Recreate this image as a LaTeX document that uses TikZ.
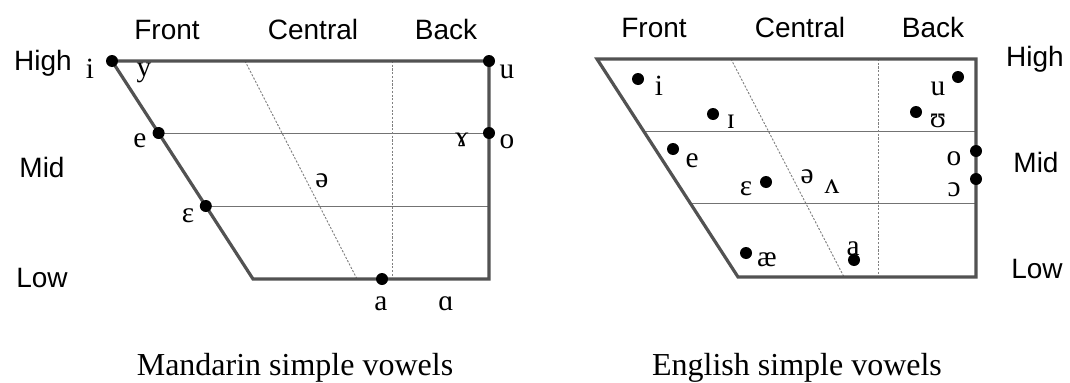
\documentclass[tikz,border=0pt]{standalone}
\usepackage{fontspec}
\setmainfont{Liberation Serif}
\setsansfont{Liberation Sans}
\usetikzlibrary{positioning}

\tikzset{
  frame/.style={line width=2.4pt, draw=black!68, line join=miter},
  grid line/.style={line width=0.75pt, draw=black!55},
  guide/.style={line width=0.7pt, draw=black!50, dash pattern=on 1.6pt off 1.2pt},
  vdot/.style={circle, fill=black, inner sep=0pt, minimum size=9pt},
  sym/.style={anchor=base, inner sep=0pt, font=\fontsize{22}{26}\selectfont},
  axis/.style={anchor=base, inner sep=0pt, font=\sffamily\fontsize{21}{25}\selectfont},
  caption/.style={anchor=base, inner sep=0pt, font=\fontsize{24}{28}\selectfont}
}

\begin{document}
\begin{tikzpicture}[x=0.75pt, y=-0.75pt]
	\useasboundingbox (0,0) rectangle (1070,382);
	
	% 1. Mandarin chart
	\coordinate (mTL) at (112,61);
	\coordinate (mTR) at (489,61);
	\coordinate (mBR) at (489,279);
	\coordinate (mBL) at (253,279);
	\coordinate (mE) at (158.6,133);
	\coordinate (mO) at (489,133);
	\coordinate (mEps) at (205.8,206);
	\coordinate (mEpsR) at (489,206);
	\coordinate (mA) at (382,279);
	
	\draw[grid line] (mE) -- (mO);
	\draw[grid line] (mEps) -- (mEpsR);
	\draw[guide] (245,61) coordinate (mS1) -- (357,279) coordinate (mS2);
	\draw[guide] (392,61) coordinate (mV1) -- (392,279) coordinate (mV2);
	\draw[frame] (mTL) -- (mTR) -- (mBR) -- (mBL) -- cycle;
	
	\node[vdot] (mi) at (mTL) {};
	\node[vdot] (mu) at (mTR) {};
	\node[vdot] (me) at (mE) {};
	\node[vdot] (mo) at (mO) {};
	\node[vdot] (meps) at (mEps) {};
	\node[vdot] (ma) at (mA) {};
	
	\node[sym] (mi-l) at (90,78) {i};
	\node[sym] (my-l) at (144,76) {y};
	\node[sym] (mu-l) at (507,78) {u};
	\node[sym] (me-l) at (140,147) {e};
	\node[sym] (mr-l) at (462,146) {ɤ};
	\node[sym] (mo-l) at (507,148) {o};
	\node[sym] (mschwa-l) at (322,187) {ə};
	\node[sym] (meps-l) at (188,222) {ɛ};
	\node[sym] (ma-l) at (381,310) {a};
	\node[sym] (mback-l) at (446,310) {ɑ};
	
	\node[axis] (mfront) at (167,39) {Front};
	\node[axis] (mcentral) at (313,39) {Central};
	\node[axis] (mback) at (446,39) {Back};
	\node[axis] (mhigh) at (43,70) {High};
	\node[axis] (mmid) at (42,177) {Mid};
	\node[axis] (mlow) at (42,287) {Low};
	
	% 2. English chart
	\coordinate (eTL) at (597,59);
	\coordinate (eTR) at (976,59);
	\coordinate (eBR) at (976,277);
	\coordinate (eBL) at (738,277);
	\coordinate (eH1) at (643.6,131);
	\coordinate (eH1R) at (976,131);
	\coordinate (eH2) at (690.1,203);
	\coordinate (eH2R) at (976,203);
	
	\draw[grid line] (eH1) -- (eH1R);
	\draw[grid line] (eH2) -- (eH2R);
	\draw[guide] (731,59) coordinate (eS1) -- (844,277) coordinate (eS2);
	\draw[guide] (878,59) coordinate (eV1) -- (878,277) coordinate (eV2);
	\draw[frame] (eTL) -- (eTR) -- (eBR) -- (eBL) -- cycle;
	
	\node[vdot] (ei) at (638,79) {};
	\node[vdot] (eI) at (713,114) {};
	\node[vdot] (eu) at (958,77) {};
	\node[vdot] (eU) at (916,112) {};
	\node[vdot] (ee) at (673,149) {};
	\node[vdot] (eeps) at (766,182) {};
	\node[vdot] (eo) at (976,151) {};
	\node[vdot] (eopen) at (976,179) {};
	\node[vdot] (eae) at (746,253) {};
	\node[vdot] (ea) at (854,260) {};
	
	\node[sym] (ei-l) at (659,95) {i};
	\node[sym] (eI-l) at (731,128) {ɪ};
	\node[sym] (eu-l) at (938,95) {u};
	\node[sym] (eU-l) at (938,127) {ʊ};
	\node[sym] (ee-l) at (692,167) {e};
	\node[sym] (eeps-l) at (746,195) {ɛ};
	\node[sym] (eschwa-l) at (807,183) {ə};
	\node[sym] (ewedge-l) at (832,193) {ʌ};
	\node[sym] (eo-l) at (954,165) {o};
	\node[sym] (eopen-l) at (954,196) {ɔ};
	\node[sym] (eae-l) at (767,266) {æ};
	\node[sym] (ea-l) at (853,255) {a};
	
	\node[axis] (efront) at (654,37) {Front};
	\node[axis] (ecentral) at (800,37) {Central};
	\node[axis] (eback) at (933,37) {Back};
	\node[axis] (ehigh) at (1035,66) {High};
	\node[axis] (emid) at (1036,172) {Mid};
	\node[axis] (elow) at (1037,278) {Low};
	
	% 3. Captions
	\node[caption] (mcap) at (295,375) {Mandarin simple vowels};
	\node[caption] (ecap) at (797,375) {English simple vowels};
	
\end{tikzpicture}
\end{document}
